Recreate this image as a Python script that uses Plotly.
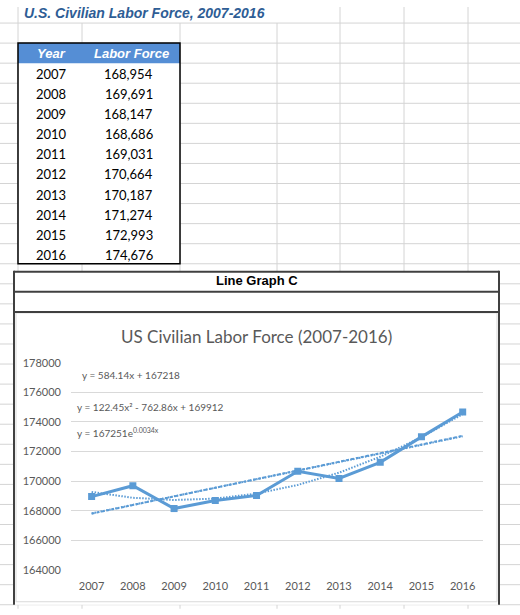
import plotly.graph_objects as go

# table / chart data
years = ["2007", "2008", "2009", "2010", "2011", "2012", "2013", "2014", "2015", "2016"]
labor_force = [168954, 169691, 168147, 168686, 169031, 170664, 170187, 171274, 172993, 174676]

# Excel trendlines, value at each year (as drawn from the shown equations)
linear_trend = [167802, 168386, 168970, 169555, 170139, 170723, 171307, 171891, 172475, 173059]
poly_trend = [169272, 168876, 168726, 168820, 169159, 169743, 170572, 171646, 172965, 174528]
exp_trend = [167821, 168392, 168966, 169541, 170119, 170698, 171279, 171863, 172448, 173035]

y_ticks = [164000, 166000, 168000, 170000, 172000, 174000, 176000, 178000]

eq_labels = ["y = 584.14x + 167218",
             "y = 122.45x\u00b2 - 762.86x + 169912",
             "y = 167251e<sup>0.0034x</sup>"]

W, H = 520, 615
BLUE = "#5B9BD5"
GREY_TXT = "#595959"
SHEET_LINE = "#D4D4D4"


def px(x):
    return x / W


def py(y):
    # screen row -> paper y (the page view sits ~7px lower and a bit squeezed)
    return 1 - ((y - 7) / 0.976) / H


shapes = []


def line(x0, y0, x1, y1, color=SHEET_LINE, width=1):
    shapes.append(dict(type="line", xref="paper", yref="paper",
                       x0=px(x0), y0=py(y0), x1=px(x1), y1=py(y1),
                       line=dict(color=color, width=width), layer="below"))


def rect(x0, y0, x1, y1, fill, color=None, width=0):
    shapes.append(dict(type="rect", xref="paper", yref="paper",
                       x0=px(x0), y0=py(y0), x1=px(x1), y1=py(y1),
                       fillcolor=fill, line=dict(color=color or fill, width=width),
                       layer="below"))


# spreadsheet grid
for r in range(23, 610, 20):
    line(0, r, W, r)
line(18, 7, 18, 607)
for c in [82, 180, 277]:
    line(c, 23, c, 607)
for c in [340, 404, 468]:
    line(c, 7, c, 607)

# data table
rect(18, 43, 180, 263, "white")
rect(18, 43, 180, 63, "#558ED5")
rect(18, 43, 180, 263, "rgba(0,0,0,0)", "black", 1.5)

# chart box
rect(14, 271, 499, 603, "white")
rect(16, 312, 497, 600, "white", "#D9D9D9", 1)
for r in [271, 291, 311]:
    line(14, r, 499, r, "#404040", 2)
line(14, 270, 14, 603, "#404040", 2)
line(499, 270, 499, 603, "#404040", 2)

annotations = []


def text(x, y, s, size, color="black", family="Lato", xanchor="left"):
    annotations.append(dict(x=px(x), y=py(y), xref="paper", yref="paper",
                            text=s, showarrow=False, xanchor=xanchor, yanchor="middle",
                            font=dict(size=size, color=color, family=family)))


text(22, 13, "<b><i>U.S. Civilian Labor Force, 2007-2016</i></b>", 14, "#2E5D95", "Liberation Sans")
text(51, 53, "<b><i>Year</i></b>", 13, "white", "Liberation Sans", "center")
text(131, 53, "<b><i>Labor Force</i></b>", 13, "white", "Liberation Sans", "center")
for i, (yr, v) in enumerate(zip(years, labor_force)):
    text(51, 74 + 20 * i, yr, 13, "black", "Lato", "center")
    text(155, 74 + 20 * i, f"{v:,}", 13, "black", "Lato", "right")

text(257, 280, "<b>Line Graph C</b>", 13, "black", "Liberation Sans", "center")
text(256, 336, "US Civilian Labor Force (2007-2016)", 17, GREY_TXT, "Lato", "center")

text(80, 374, eq_labels[0], 10, GREY_TXT)
text(75, 406, eq_labels[1], 10, GREY_TXT)
text(75, 431, eq_labels[2], 10, GREY_TXT)

fig = go.Figure()
fig.add_trace(go.Scatter(x=years, y=linear_trend, mode="lines",
                         line=dict(color=BLUE, width=2, dash="3px,2px")))
fig.add_trace(go.Scatter(x=years, y=exp_trend, mode="lines",
                         line=dict(color=BLUE, width=2, dash="1.5px,1.5px")))
fig.add_trace(go.Scatter(x=years, y=poly_trend, mode="lines",
                         line=dict(color=BLUE, width=2, dash="1.5px,1.5px")))
fig.add_trace(go.Scatter(x=years, y=labor_force, mode="lines+markers",
                         line=dict(color=BLUE, width=3),
                         marker=dict(symbol="square", size=7, color=BLUE)))

fig.update_layout(
    width=W, height=H, autosize=False,
    margin=dict(l=0, r=0, t=0, b=0),
    paper_bgcolor="white", plot_bgcolor="rgba(0,0,0,0)",
    showlegend=False,
    shapes=shapes, annotations=annotations,
    xaxis=dict(domain=[px(71), px(483.3)], type="category", range=[-0.5, 9.5],
               showgrid=False, zeroline=False, showline=False, ticks="",
               tickfont=dict(family="Lato", size=11, color=GREY_TXT),
               ticklabelstandoff=8, fixedrange=True),
    yaxis=dict(domain=[py(568.3), py(361.7)], range=[164000, 178000],
               tickvals=y_ticks, tickformat="d",
               showgrid=True, gridcolor="#D9D9D9", gridwidth=1,
               zeroline=False, showline=False, ticks="",
               tickfont=dict(family="Lato", size=11, color=GREY_TXT),
               ticklabelstandoff=9, fixedrange=True),
)

# page has default body margin; drop it so the figure fills the window
fig.write_html("out.html", config={"displayModeBar": False},
               post_script="document.body.style.margin='0';document.body.style.overflow='hidden';")
